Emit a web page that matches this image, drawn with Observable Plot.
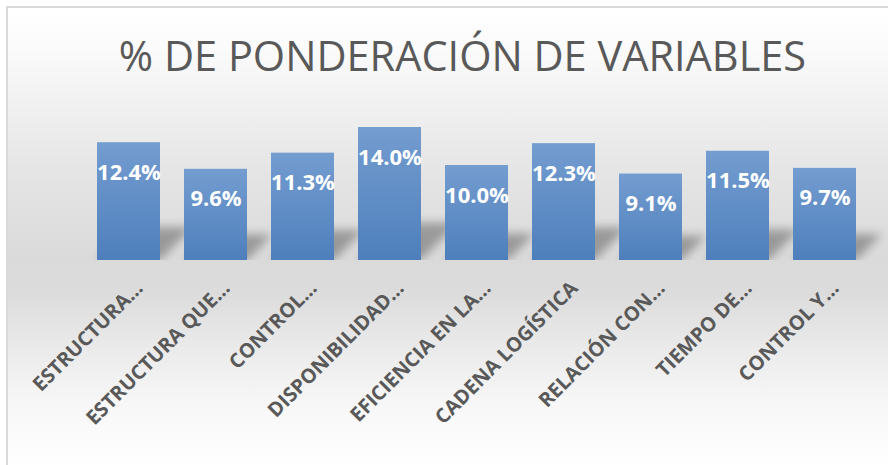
<!DOCTYPE html>
<html>
<head>
<meta charset="utf-8">
<script src="https://cdn.jsdelivr.net/npm/d3@7"></script>
<script src="https://cdn.jsdelivr.net/npm/@observablehq/plot@0.6"></script>
<style>
  html, body { margin: 0; padding: 0; background: #ffffff; }
  #frame {
    position: absolute; left: 6px; top: 6px; width: 882px; height: 459px;
    box-sizing: border-box; overflow: hidden;
    border-left: 2px solid #d9d9d9; border-top: 2px solid #d9d9d9;
    background: linear-gradient(to bottom, #ffffff 0px, #fbfbfb 40px, #f0f0f0 100px, #e4e4e4 170px,
      #dadada 250px, #dcdcdc 285px, #e9e9e9 335px, #f7f7f7 395px, #ffffff 457px);
  }
  #title {
    height: 87px; width: 880px; box-sizing: border-box;
    padding-top: 27px; padding-left: 29px;
    text-align: center; white-space: nowrap;
    font-family: "Open Sans", sans-serif; font-size: 41.5px; line-height: 41.5px;
    color: #595959;
  }
  #chart svg { display: block; }
</style>
</head>
<body>
<div id="frame">
  <div id="title">% DE PONDERACIÓN DE VARIABLES</div>
  <div id="chart"></div>
</div>
<script>
const categories = [
  "ESTRUCTURA…",
  "ESTRUCTURA QUE…",
  "CONTROL…",
  "DISPONIBILIDAD…",
  "EFICIENCIA EN LA…",
  "CADENA LOGÍSTICA",
  "RELACIÓN CON…",
  "TIEMPO DE…",
  "CONTROL Y…"
];
const values = [12.4, 9.6, 11.3, 14.0, 10.0, 12.3, 9.1, 11.5, 9.7];
const yDomain = [0, 16];

const data = categories.map((c, i) => ({cat: c, v: values[i]}));

const chart = Plot.plot({
  width: 880,
  height: 370,
  marginTop: 13,
  marginBottom: 205,
  marginLeft: 62,
  marginRight: 6,
  style: {background: "transparent", fontFamily: "'Open Sans', sans-serif", overflow: "visible"},
  x: {domain: categories, padding: 0.28, axis: null},
  y: {domain: yDomain, axis: null},
  marks: [
    Plot.barY(data, {x: "cat", y: "v", fill: "#000000"}),
    Plot.barY(data, {x: "cat", y: "v", fill: "url(#barGrad)"}),
    Plot.text(data, {
      x: "cat", y: "v", text: d => d.v.toFixed(1) + "%",
      dy: 30, fill: "#ffffff", fontSize: 22, fontWeight: "bold"
    }),
    Plot.text(data, {
      x: "cat", frameAnchor: "bottom", text: "cat",
      rotate: -45, textAnchor: "end", lineAnchor: "bottom",
      dx: 15, dy: 29, fill: "#595959", fontSize: 20, fontWeight: "bold"
    })
  ]
});

document.getElementById("chart").appendChild(chart);

// Styling: gradient fill for bars and a soft perspective shadow
const svg = d3.select(chart);
const y0 = chart.scale("y").apply(0);
const defs = svg.insert("defs", ":first-child");
const grad = defs.append("linearGradient").attr("id", "barGrad")
  .attr("x1", 0).attr("y1", 0).attr("x2", 0).attr("y2", 1);
grad.append("stop").attr("offset", "0%").attr("stop-color", "#749dd0");
grad.append("stop").attr("offset", "100%").attr("stop-color", "#4e7fbc");
defs.append("filter").attr("id", "shadowBlur")
  .attr("x", "-30%").attr("y", "-50%").attr("width", "160%").attr("height", "200%")
  .append("feGaussianBlur").attr("stdDeviation", 5);
defs.append("clipPath").attr("id", "aboveBase")
  .append("rect").attr("x", 0).attr("y", 0).attr("width", 880).attr("height", y0);

const node = svg.selectAll("g[aria-label='bar']").node();
if (node) {
  const outer = document.createElementNS("http://www.w3.org/2000/svg", "g");
  node.parentNode.insertBefore(outer, node);
  outer.appendChild(node);
  d3.select(outer).attr("filter", "url(#shadowBlur)").attr("opacity", 0.3).attr("clip-path", "url(#aboveBase)");
  const prev = node.getAttribute("transform") || "";
  node.setAttribute("transform", `translate(0,${y0}) skewX(-45) scale(1,0.28) translate(0,${-y0}) ${prev}`);
}
</script>
</body>
</html>
